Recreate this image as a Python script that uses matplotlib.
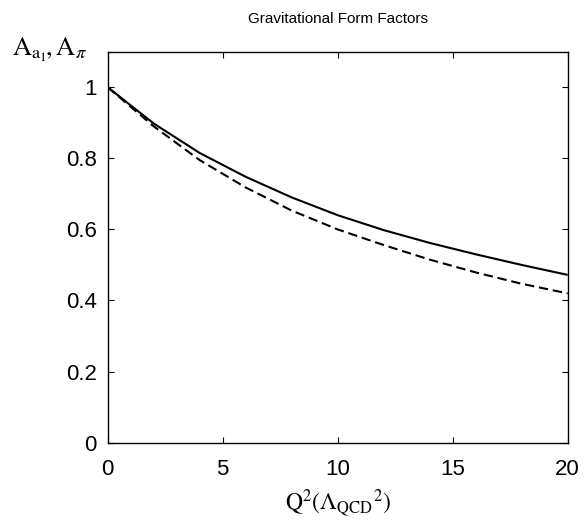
import matplotlib
matplotlib.use("Agg")
import matplotlib.pyplot as plt

# Data
q2 = [0, 2, 4, 6, 8, 10, 12, 14, 16, 18, 20]
a_solid = [1.0, 0.898, 0.815, 0.748, 0.690, 0.640, 0.598, 0.562, 0.530, 0.500, 0.472]
a_dashed = [1.0, 0.890, 0.795, 0.718, 0.653, 0.600, 0.556, 0.515, 0.479, 0.447, 0.420]
xticks = [0, 5, 10, 15, 20]
yticks = [0, 0.2, 0.4, 0.6, 0.8, 1.0]
yticklabels = ["0", "0.2", "0.4", "0.6", "0.8", "1"]

plt.rcParams['font.family'] = ['Liberation Sans', 'DejaVu Sans']
plt.rcParams['mathtext.fontset'] = 'stix'

fig = plt.figure(figsize=(5.84, 5.22), dpi=100)
ax = fig.add_axes([0.1844, 0.152, 0.972 - 0.1844, 0.749])

ax.plot(q2, a_solid, color='black', lw=1.5, solid_capstyle='butt')
ax.plot(q2, a_dashed, color='black', lw=1.5, dashes=(4.5, 2.3))

ax.set_xlim(0, 20)
ax.set_ylim(0, 1.1)
ax.set_xticks(xticks)
ax.set_xticklabels([str(t) for t in xticks])
ax.set_yticks(yticks)
ax.set_yticklabels(yticklabels)
ax.tick_params(direction='in', top=True, right=True, length=4, width=0.8,
               labelsize=16)
ax.tick_params(axis='y', pad=8)
ax.tick_params(axis='x', pad=12)
for s in ax.spines.values():
    s.set_linewidth(1.0)

fig.text(0.5782, 0.963, "Gravitational Form Factors", ha='center', va='center',
         fontsize=11)
fig.text(0.02, 0.905, r"$\mathrm{A}_{\mathrm{a}_1}\!,\mathrm{A}_\pi$", ha='left',
         va='center', fontsize=19)
ax.set_xlabel(r"$\mathrm{Q}^2(\Lambda_{\mathrm{QCD}}{}^2)$", fontsize=17, labelpad=5)

fig.savefig("out.png", dpi=100)
